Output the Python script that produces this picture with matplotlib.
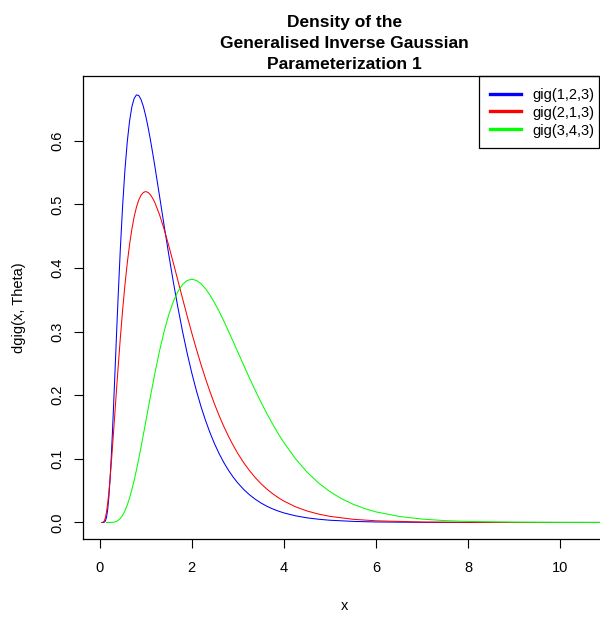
import matplotlib
matplotlib.use('Agg')
import matplotlib.pyplot as plt
from matplotlib.patches import Rectangle

plt.rcParams['font.family'] = ['Liberation Sans', 'DejaVu Sans']

# values
x_br = [0.05, 0.075, 0.1, 0.125, 0.15, 0.175, 0.2, 0.225, 0.25, 0.275, 0.3, 0.325, 0.35,
        0.375, 0.4, 0.45, 0.5, 0.55, 0.6, 0.65, 0.7, 0.75, 0.8, 0.85, 0.9, 0.95, 1.0,
        1.05, 1.1, 1.15, 1.2, 1.3, 1.4, 1.5, 1.6, 1.7, 1.8, 1.9, 2.0, 2.1, 2.2, 2.3,
        2.4, 2.5, 2.6, 2.7, 2.8, 2.9, 3.0, 3.125, 3.25, 3.375, 3.5, 3.625, 3.75, 3.875,
        4.0, 4.25, 4.5, 4.75, 5.0, 5.5, 6.0, 7.0, 8.0, 9.0, 10.0, 11.0]
blue = [0.0, 0.0, 0.0003, 0.0022, 0.0079, 0.0198, 0.0389, 0.0653, 0.0980, 0.1358,
        0.1773, 0.2205, 0.2646, 0.3083, 0.3508, 0.4297, 0.4979, 0.5540, 0.5979, 0.6307,
        0.6532, 0.6665, 0.6720, 0.6711, 0.6646, 0.6538, 0.6393, 0.6220, 0.6026, 0.5816,
        0.5595, 0.5134, 0.4669, 0.4215, 0.3781, 0.3377, 0.3003, 0.2661, 0.2352, 0.2073,
        0.1823, 0.1601, 0.1403, 0.1228, 0.1073, 0.0937, 0.0817, 0.0712, 0.0620, 0.0521,
        0.0437, 0.0367, 0.0307, 0.0257, 0.0215, 0.0180, 0.0150, 0.0105, 0.0073, 0.0051,
        0.0035, 0.0017, 0.0008, 0.0002, 0.0, 0.0, 0.0, 0.0]
red = [0.0, 0.0003, 0.0022, 0.0073, 0.0164, 0.0297, 0.0467, 0.0669, 0.0894, 0.1136,
       0.1389, 0.1647, 0.1907, 0.2165, 0.2417, 0.2899, 0.3339, 0.3732, 0.4074, 0.4366,
       0.4608, 0.4804, 0.4957, 0.5069, 0.5145, 0.5187, 0.5201, 0.5188, 0.5154, 0.5098,
       0.5026, 0.4839, 0.4610, 0.4353, 0.4081, 0.3801, 0.3521, 0.3246, 0.2980, 0.2726,
       0.2484, 0.2258, 0.2047, 0.1850, 0.1669, 0.1502, 0.1350, 0.1211, 0.1084, 0.0942,
       0.0818, 0.0708, 0.0612, 0.0528, 0.0455, 0.0391, 0.0336, 0.0247, 0.0181, 0.0132,
       0.0096, 0.0050, 0.0026, 0.0007, 0.0002, 0.0, 0.0, 0.0]

x_g = [0.15, 0.2, 0.25, 0.3, 0.35, 0.4, 0.45, 0.5, 0.55, 0.6, 0.65, 0.7, 0.75, 0.8,
       0.85, 0.9, 0.95, 1.0, 1.1, 1.2, 1.3, 1.4, 1.5, 1.6, 1.7, 1.8, 1.9, 2.0, 2.1,
       2.2, 2.3, 2.4, 2.5, 2.6, 2.7, 2.8, 2.9, 3.0, 3.125, 3.25, 3.375, 3.5, 3.625,
       3.75, 3.875, 4.0, 4.25, 4.5, 4.75, 5.0, 5.25, 5.5, 5.75, 6.0, 6.5, 7.0, 7.5,
       8.0, 9.0, 10.0, 11.0]
green = [0.0, 0.0, 0.0001, 0.0004, 0.0013, 0.0031, 0.0063, 0.0113, 0.0182, 0.0272,
         0.0383, 0.0514, 0.0662, 0.0826, 0.1002, 0.1187, 0.1380, 0.1576, 0.1968, 0.2346,
         0.2694, 0.3001, 0.3262, 0.3472, 0.3631, 0.3740, 0.3803, 0.3823, 0.3805, 0.3753,
         0.3673, 0.3569, 0.3446, 0.3309, 0.3160, 0.3002, 0.2842, 0.2679, 0.2475, 0.2274,
         0.2080, 0.1895, 0.1718, 0.1553, 0.1398, 0.1255, 0.1003, 0.0793, 0.0622, 0.0484,
         0.0374, 0.0287, 0.0219, 0.0166, 0.0095, 0.0053, 0.0029, 0.0016, 0.0005, 0.0001, 0.0]

labels = ['gig(1,2,3)', 'gig(2,1,3)', 'gig(3,4,3)']
colors = ['#0000ff', '#ff0000', '#00ff00']
x_ticks = [0, 2, 4, 6, 8, 10]
y_ticks = [0.0, 0.1, 0.2, 0.3, 0.4, 0.5, 0.6]

fig = plt.figure(figsize=(6, 6.18), dpi=100)
ax = fig.add_axes([0.1378, 0.1275, 0.8722, 0.7495])

ax.plot(x_br, blue, color=colors[0], linewidth=0.75)
ax.plot(x_br, red, color=colors[1], linewidth=0.75)
ax.plot(x_g, green, color=colors[2], linewidth=0.75)

ax.set_xlim(-0.367, 10.99)
ax.set_ylim(-0.0263, 0.7017)
ax.set_xticks(x_ticks)
ax.set_yticks(y_ticks)
ax.set_yticklabels([f'{v:.1f}' for v in y_ticks], rotation=90, va='center')

for s in ax.spines.values():
    s.set_linewidth(0.9)
    s.set_color('black')
ax.tick_params(axis='both', direction='out', length=6.5, width=0.8, labelsize=10.5)
ax.tick_params(axis='x', pad=9.5)
ax.tick_params(axis='y', pad=6.5)

ax.set_xlabel('x', fontsize=10.5)
ax.set_ylabel('dgig(x, Theta)', fontsize=10.5)
ax.xaxis.set_label_coords(0.5, -0.129)
ax.yaxis.set_label_coords(-0.1087, 0.5)

ax.set_title('Density of the\nGeneralised Inverse Gaussian\nParameterization 1',
             fontsize=12.5, fontweight='bold', linespacing=1.52, pad=4.8)

# legend: entries without frame, box drawn separately (R style, flush top right)
handles = [plt.Line2D([], [], color=c, linewidth=2.4) for c in colors]
leg = fig.legend(handles, labels, loc='upper left',
                 bbox_to_anchor=(478.7 / 600, 1 - 76 / 618), borderaxespad=0,
                 fontsize=10.5, handlelength=2.1, handletextpad=0.8,
                 borderpad=0.8, labelspacing=0.27, frameon=False)
fig.add_artist(Rectangle((478.7 / 600, 1 - 148 / 618), 120.6 / 600, 72 / 618,
                         transform=fig.transFigure, fill=False,
                         edgecolor='black', linewidth=0.9))

fig.savefig('out.png', dpi=100)
